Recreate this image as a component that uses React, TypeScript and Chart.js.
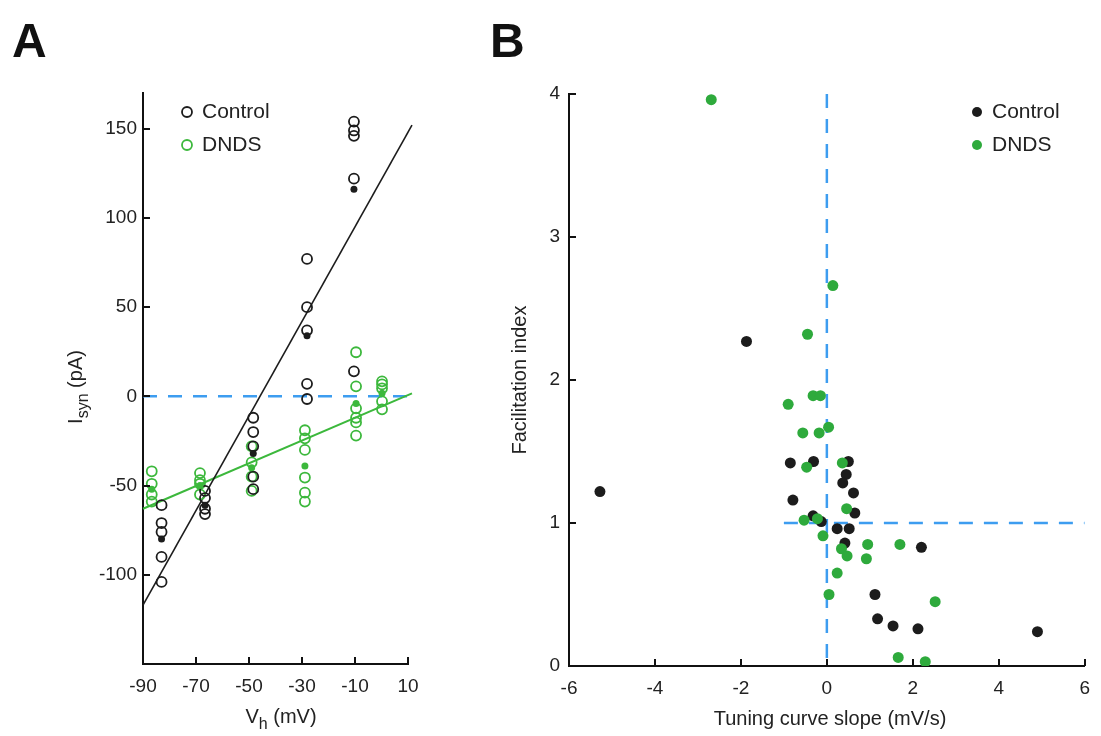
import React, { useEffect, useRef } from "react";
import { Chart, registerables } from "chart.js";
Chart.register(...registerables);

const FONT = '"Liberation Sans", Arial, Helvetica, sans-serif';

// ---------- Panel A data ----------
const ctrlOpenX = [-83, -83, -83, -83, -83, -66.6, -66.6, -66.6, -66.6, -48.4, -48.4, -48.4, -48.4, -48.4, -28.1, -28.1, -28.1, -28.1, -28.1, -10.4, -10.4, -10.4, -10.4, -10.4];
const ctrlOpenY = [-61, -71, -76, -90, -104, -53, -57, -63, -66, -12, -20, -28, -45, -52, 77, 50, 37, 7, -1.5, 154, 149, 146, 122, 14];
const ctrlMeanX = [-83, -66.6, -48.4, -28.1, -10.4];
const ctrlMeanY = [-80, -61, -32, 34, 116];
const dndsOpenX = [-86.7, -86.7, -86.7, -86.7, -68.5, -68.5, -68.5, -68.5, -49, -49, -49, -49, -28.9, -28.9, -28.9, -28.9, -28.9, -28.9, -9.6, -9.6, -9.6, -9.6, -9.6, -9.6, 0.2, 0.2, 0.2, 0.2, 0.2];
const dndsOpenY = [-42, -49, -55, -59, -43, -47, -49, -55, -28, -37, -45, -53, -19, -23.5, -30, -45.5, -54, -59, 24.7, 5.6, -6.7, -12, -14.6, -22, 8.4, 6.7, 4.5, -2.8, -7.3];
const dndsMeanX = [-86.7, -68.5, -49, -28.9, -9.6, 0.2];
const dndsMeanY = [-52, -50, -40, -39, -4, 1.7];
const ctrlFitX = [-90, 11.5];
const ctrlFitY = [-117, 152];
const dndsFitX = [-90, 11.5];
const dndsFitY = [-63, 1.7];
const zeroLineX = [-90, 10];
const zeroLineY = [0, 0];
const xTicksA = [-90, -70, -50, -30, -10, 10];
const yTicksA = [-100, -50, 0, 50, 100, 150];

// ---------- Panel B data ----------
const ctrlSlope = [-1.87, -0.85, -0.31, 0.5, 0.45, 0.37, 0.62, -5.28, -0.79, 0.65, -0.32, -0.13, 0.24, 0.52, 0.42, 2.2, 1.12, 1.18, 1.54, 2.12, 4.9];
const ctrlFacil = [2.27, 1.42, 1.43, 1.43, 1.34, 1.28, 1.21, 1.22, 1.16, 1.07, 1.05, 1.01, 0.96, 0.96, 0.86, 0.83, 0.5, 0.33, 0.28, 0.26, 0.24];
const dndsSlope = [-2.69, 0.14, -0.45, -0.9, -0.32, -0.15, 0.04, -0.56, -0.18, -0.47, 0.36, 0.46, -0.53, -0.22, -0.09, 0.95, 1.7, 0.34, 0.47, 0.92, 0.24, 0.05, 2.52, 1.66, 2.29];
const dndsFacil = [3.96, 2.66, 2.32, 1.83, 1.89, 1.89, 1.67, 1.63, 1.63, 1.39, 1.42, 1.1, 1.02, 1.03, 0.91, 0.85, 0.85, 0.82, 0.77, 0.75, 0.65, 0.5, 0.45, 0.06, 0.03];
const hLineX = [-1, 6];
const hLineY = [1, 1];
const vLineX = [0, 0];
const vLineY = [4, 0];
const xTicksB = [-6, -4, -2, 0, 2, 4, 6];
const yTicksB = [0, 1, 2, 3, 4];

const zip = (xs: number[], ys: number[]) => xs.map((x, i) => ({ x, y: ys[i] }));

const BLUE = "#3d9df0";
const GREEN_A = "#3cb83c";
const GREEN_B = "#2eaa3c";
const BLACK = "#1c1c1c";
const AXIS = "#111";
const TEXT = "#222";
const DASH = [14, 11];

type Part = { t: string; sub?: boolean };

function drawParts(ctx: CanvasRenderingContext2D, parts: Part[], cx: number, cy: number, rotate: boolean, size: number) {
  ctx.save();
  ctx.translate(cx, cy);
  if (rotate) ctx.rotate(-Math.PI / 2);
  const big = `${size}px ${FONT}`;
  const small = `${Math.round(size * 0.78)}px ${FONT}`;
  const widths = parts.map((p) => {
    ctx.font = p.sub ? small : big;
    return ctx.measureText(p.t).width;
  });
  const total = widths.reduce((a, b) => a + b, 0);
  let x = -total / 2;
  ctx.textBaseline = "middle";
  ctx.textAlign = "left";
  ctx.fillStyle = TEXT;
  parts.forEach((p, i) => {
    ctx.font = p.sub ? small : big;
    ctx.fillText(p.t, x, p.sub ? size * 0.38 : 0);
    x += widths[i];
  });
  ctx.restore();
}

type Decor = {
  letter: string;
  letterX: number;
  xTitle: Part[];
  xTitlePos: [number, number];
  yTitle: Part[];
  yTitlePos: [number, number];
  legend: { label: string; color: string; filled: boolean; x: number; y: number }[];
  tickLen: number;
};

function makeDecor(d: Decor) {
  return {
    id: "decor",
    afterDraw(chart: any) {
      const ctx: CanvasRenderingContext2D = chart.ctx;
      const { bottom, left } = chart.chartArea;
      const xs = chart.scales.x;
      const ys = chart.scales.y;
      ctx.save();
      ctx.strokeStyle = AXIS;
      ctx.lineWidth = 2;
      ctx.beginPath();
      xs.ticks.forEach((t: any) => {
        const px = Math.round(xs.getPixelForValue(t.value));
        ctx.moveTo(px, bottom);
        ctx.lineTo(px, bottom - d.tickLen);
      });
      ys.ticks.forEach((t: any) => {
        const py = Math.round(ys.getPixelForValue(t.value));
        ctx.moveTo(left, py);
        ctx.lineTo(left + d.tickLen, py);
      });
      ctx.stroke();
      ctx.restore();

      drawParts(ctx, d.xTitle, d.xTitlePos[0], d.xTitlePos[1], false, 20);
      drawParts(ctx, d.yTitle, d.yTitlePos[0], d.yTitlePos[1], true, 20);

      d.legend.forEach((l) => {
        ctx.save();
        ctx.beginPath();
        ctx.arc(l.x, l.y, 5, 0, Math.PI * 2);
        if (l.filled) {
          ctx.fillStyle = l.color;
          ctx.fill();
        } else {
          ctx.strokeStyle = l.color;
          ctx.lineWidth = 1.8;
          ctx.stroke();
        }
        ctx.font = `21px ${FONT}`;
        ctx.fillStyle = TEXT;
        ctx.textBaseline = "middle";
        ctx.textAlign = "left";
        ctx.fillText(l.label, l.x + 15, l.y);
        ctx.restore();
      });

      ctx.save();
      ctx.font = `bold 48px ${FONT}`;
      ctx.fillStyle = "#111";
      ctx.textBaseline = "alphabetic";
      ctx.textAlign = "left";
      ctx.fillText(d.letter, d.letterX, 57);
      ctx.restore();
    },
  };
}

const tickFont = { family: FONT, size: 19 };

function PanelA() {
  const ref = useRef<HTMLCanvasElement>(null);
  useEffect(() => {
    const chart = new Chart(ref.current!, {
      type: "scatter",
      data: {
        datasets: [
          { data: zip(ctrlMeanX, ctrlMeanY), pointRadius: 3.5, pointBackgroundColor: BLACK, pointBorderWidth: 0, order: 1 } as any,
          { data: zip(dndsMeanX, dndsMeanY), pointRadius: 3.5, pointBackgroundColor: GREEN_A, pointBorderWidth: 0, order: 2 },
          { data: zip(ctrlOpenX, ctrlOpenY), pointRadius: 5, pointBackgroundColor: "rgba(0,0,0,0)", pointBorderColor: BLACK, pointBorderWidth: 1.8, order: 3 },
          { data: zip(dndsOpenX, dndsOpenY), pointRadius: 5, pointBackgroundColor: "rgba(0,0,0,0)", pointBorderColor: GREEN_A, pointBorderWidth: 1.8, order: 4 },
          { data: zip(ctrlFitX, ctrlFitY), showLine: true, pointRadius: 0, borderColor: BLACK, borderWidth: 1.6, clip: false, order: 5 },
          { data: zip(dndsFitX, dndsFitY), showLine: true, pointRadius: 0, borderColor: GREEN_A, borderWidth: 2, clip: false, order: 6 },
          { data: zip(zeroLineX, zeroLineY), showLine: true, pointRadius: 0, borderColor: BLUE, borderWidth: 2.5, borderDash: DASH, order: 7 },
        ],
      },
      options: {
        responsive: false,
        animation: false,
        layout: { padding: { left: 0, top: 93, right: 62, bottom: 0 } },
        plugins: { legend: { display: false }, tooltip: { enabled: false } },
        scales: {
          x: {
            type: "linear",
            min: -90,
            max: 10,
            afterBuildTicks: (s: any) => { s.ticks = xTicksA.map((v) => ({ value: v })); },
            afterFit: (s: any) => { s.height = 72; },
            ticks: { color: TEXT, font: tickFont, padding: 11, autoSkip: false, maxRotation: 0 },
            grid: { display: false, drawTicks: false },
            border: { display: true, color: AXIS, width: 2 },
          },
          y: {
            type: "linear",
            min: -150,
            max: 170,
            afterBuildTicks: (s: any) => { s.ticks = yTicksA.map((v) => ({ value: v })); },
            afterFit: (s: any) => { s.width = 143; },
            ticks: { color: TEXT, font: tickFont, padding: 6, autoSkip: false },
            grid: { display: false, drawTicks: false },
            border: { display: true, color: AXIS, width: 2 },
          },
        },
      },
      plugins: [
        makeDecor({
          letter: "A",
          letterX: 12,
          xTitle: [{ t: "V" }, { t: "h", sub: true }, { t: " (mV)" }],
          xTitlePos: [281, 717],
          yTitle: [{ t: "I" }, { t: "syn", sub: true }, { t: " (pA)" }],
          yTitlePos: [76, 387],
          legend: [
            { label: "Control", color: BLACK, filled: false, x: 187, y: 112 },
            { label: "DNDS", color: GREEN_A, filled: false, x: 187, y: 145 },
          ],
          tickLen: 7,
        }),
      ],
    } as any);
    return () => chart.destroy();
  }, []);
  return <canvas ref={ref} width={470} height={736} style={{ position: "absolute", left: 0, top: 0 }} />;
}

function PanelB() {
  const ref = useRef<HTMLCanvasElement>(null);
  useEffect(() => {
    const chart = new Chart(ref.current!, {
      type: "scatter",
      data: {
        datasets: [
          { data: zip(dndsSlope, dndsFacil), pointRadius: 5.5, pointBackgroundColor: GREEN_B, pointBorderWidth: 0, order: 1 } as any,
          { data: zip(ctrlSlope, ctrlFacil), pointRadius: 5.5, pointBackgroundColor: BLACK, pointBorderWidth: 0, order: 2 },
          { data: zip(hLineX, hLineY), showLine: true, pointRadius: 0, borderColor: BLUE, borderWidth: 2.5, borderDash: DASH, order: 3 },
          { data: zip(vLineX, vLineY), showLine: true, pointRadius: 0, borderColor: BLUE, borderWidth: 2.5, borderDash: DASH, order: 4 },
        ],
      },
      options: {
        responsive: false,
        animation: false,
        layout: { padding: { left: 0, top: 94, right: 12, bottom: 0 } },
        plugins: { legend: { display: false }, tooltip: { enabled: false } },
        scales: {
          x: {
            type: "linear",
            min: -6,
            max: 6,
            afterBuildTicks: (s: any) => { s.ticks = xTicksB.map((v) => ({ value: v })); },
            afterFit: (s: any) => { s.height = 70; },
            ticks: { color: TEXT, font: tickFont, padding: 11, autoSkip: false, maxRotation: 0 },
            grid: { display: false, drawTicks: false },
            border: { display: true, color: AXIS, width: 2 },
          },
          y: {
            type: "linear",
            min: 0,
            max: 4,
            afterBuildTicks: (s: any) => { s.ticks = yTicksB.map((v) => ({ value: v })); },
            afterFit: (s: any) => { s.width = 99; },
            ticks: { color: TEXT, font: tickFont, padding: 9, autoSkip: false },
            grid: { display: false, drawTicks: false },
            border: { display: true, color: AXIS, width: 2 },
          },
        },
      },
      plugins: [
        makeDecor({
          letter: "B",
          letterX: 20,
          xTitle: [{ t: "Tuning curve slope (mV/s)" }],
          xTitlePos: [360, 719],
          yTitle: [{ t: "Facilitation index" }],
          yTitlePos: [50, 380],
          legend: [
            { label: "Control", color: BLACK, filled: true, x: 507, y: 112 },
            { label: "DNDS", color: GREEN_B, filled: true, x: 507, y: 145 },
          ],
          tickLen: 7,
        }),
      ],
    } as any);
    return () => chart.destroy();
  }, []);
  return <canvas ref={ref} width={631} height={736} style={{ position: "absolute", left: 470, top: 0 }} />;
}

export default function App() {
  return (
    <div style={{ position: "absolute", left: 0, top: 0, width: 1101, height: 736, background: "#fff", overflow: "hidden" }}>
      <PanelA />
      <PanelB />
    </div>
  );
}
